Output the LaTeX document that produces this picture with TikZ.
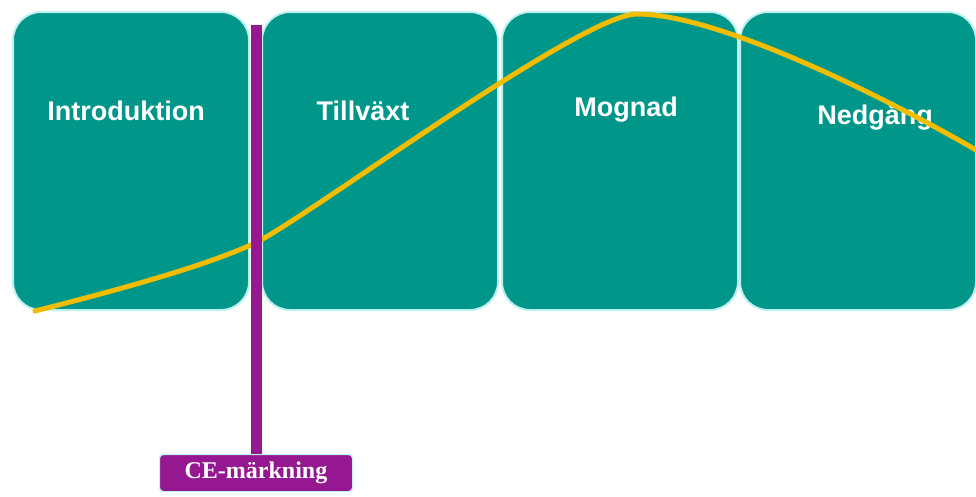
\documentclass[tikz,border=0pt]{standalone}
\usepackage{fontspec}
\setmainfont{Liberation Serif}
\newfontfamily\phasefont{Liberation Sans}
\usetikzlibrary{positioning}
\definecolor{phaseteal}{RGB}{0,150,138}
\definecolor{glowcyan}{RGB}{190,240,240}
\definecolor{curveyellow}{RGB}{242,188,0}
\definecolor{cepurple}{RGB}{150,24,145}
\begin{document}
\begin{tikzpicture}[x=1pt,y=-1pt,
  phase/.style={fill=phaseteal,draw=glowcyan,line width=2pt,rounded corners=28pt,
    minimum width=236pt,minimum height=298pt,inner sep=0pt},
  phasetext/.style={text=white,font=\phasefont\bfseries\fontsize{27}{32}\selectfont},
  cebox/.style={fill=cepurple,draw=glowcyan,line width=1pt,rounded corners=4pt,
    minimum width=193pt,minimum height=37pt,text=white,
    font=\bfseries\fontsize{24}{28}\selectfont},
  celine/.style={draw=cepurple,line width=11pt},
  lifecurve/.style={draw=curveyellow,line width=5pt,line cap=round}]
\useasboundingbox[fill=white] (0,0) rectangle (976,496);
\node[phase] (intro) at (131,161) {};
\node[phase] (growth) at (380,161) {};
\node[phase] (mature) at (620,161) {};
\node[phase] (decline) at (858,161) {};
\node[phasetext] at (126,111) {Introduktion};
\node[phasetext] at (363,111) {Tillväxt};
\node[phasetext] at (626,110) {Mognad};
\node[phasetext] at (875,116) {Nedgång};
\draw[lifecurve] (35,311) .. controls (110,292) and (200,268) .. (253,244)
  .. controls (300,223) and (580,14) .. (637,14)
  .. controls (720,14) and (890,100) .. (976,150);
\node[cebox] (ce) at (256,473) {CE-märkning};
\coordinate (cetop) at (256,25);
\draw[celine] (ce.north) -- (cetop);
\end{tikzpicture}
\end{document}
